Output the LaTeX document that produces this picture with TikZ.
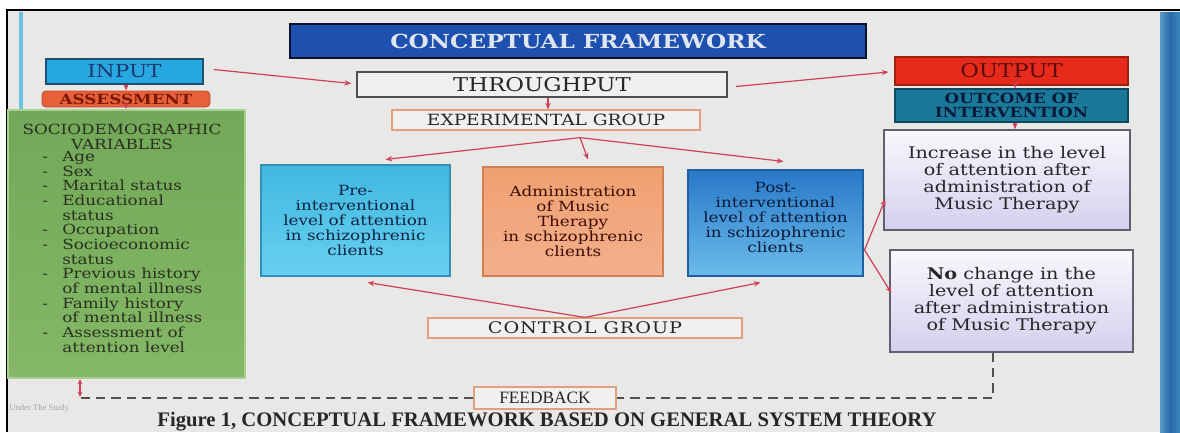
\documentclass[tikz,border=0pt]{standalone}
\usepackage{fontspec}
\setmainfont{DejaVu Serif}[FakeStretch=1.2]
\newfontfamily\capfont{Liberation Serif}
\usetikzlibrary{arrows.meta,calc}
\newcommand\fsz[2]{\fontsize{#1pt}{#2pt}\selectfont}
\definecolor{slidebg}{HTML}{E8E8E6}
\definecolor{bandL}{HTML}{5A9AC8}
\definecolor{bandM}{HTML}{2A6AA8}
\definecolor{bandR}{HTML}{3A88C0}
\definecolor{lblue}{HTML}{70C0E0}
\definecolor{titlefill}{HTML}{1E50B0}
\definecolor{titledraw}{HTML}{0A1030}
\definecolor{titletext}{HTML}{E0E6F0}
\definecolor{inputfill}{HTML}{28A8E0}
\definecolor{inputdraw}{HTML}{205070}
\definecolor{inputtext}{HTML}{1A3A70}
\definecolor{assessfill}{HTML}{E8603A}
\definecolor{assesstext}{HTML}{7A1808}
\definecolor{greenA}{HTML}{72A858}
\definecolor{greenB}{HTML}{84B866}
\definecolor{greenbd}{HTML}{A8D090}
\definecolor{greentext}{HTML}{2A3020}
\definecolor{boxtext}{HTML}{262628}
\definecolor{thrufill}{HTML}{F0F0EE}
\definecolor{thrudraw}{HTML}{505050}
\definecolor{grpdraw}{HTML}{E0A080}
\definecolor{outfill}{HTML}{E62A1C}
\definecolor{outdraw}{HTML}{A02010}
\definecolor{outtext}{HTML}{5A0C0C}
\definecolor{ocfill}{HTML}{1A7898}
\definecolor{ocdraw}{HTML}{104860}
\definecolor{octext}{HTML}{0A1A3A}
\definecolor{lavtop}{HTML}{F8F8FC}
\definecolor{lavbot}{HTML}{D6CEEE}
\definecolor{lavdraw}{HTML}{606070}
\definecolor{cyanA}{HTML}{40B8E0}
\definecolor{cyanB}{HTML}{22A6DA}
\definecolor{cyanC}{HTML}{68D0F0}
\definecolor{cyandraw}{HTML}{3090B8}
\definecolor{orA}{HTML}{F0A070}
\definecolor{orB}{HTML}{E87424}
\definecolor{orC}{HTML}{F2B08E}
\definecolor{ordraw}{HTML}{D08050}
\definecolor{bluA}{HTML}{2878C8}
\definecolor{bluB}{HTML}{3484CC}
\definecolor{bluC}{HTML}{6CBCEA}
\definecolor{bludraw}{HTML}{2060A0}
\definecolor{arrc}{HTML}{D0405A}
\definecolor{dashc}{HTML}{505050}
\begin{document}
\begin{tikzpicture}[x=0.75pt,y=-0.75pt,
  sz/.style 2 args={minimum width=#1*0.75pt, minimum height=#2*0.75pt, inner sep=0pt},
  arr/.style={draw=arrc, line width=0.9pt, -{Stealth[length=5pt,width=4pt]}},
  fbdash/.style={draw=dashc, line width=1.1pt, dash pattern=on 7pt off 4.5pt},
  grpbox/.style={fill=thrufill, draw=grpdraw, line width=0.9pt, text=boxtext},
  lavbox/.style={top color=lavtop, bottom color=lavbot, draw=lavdraw, line width=1pt, text=boxtext, align=center, font=\fsz{12}{12.75}},
  midbox/.style={align=center, font=\fsz{10.5}{11.25}, line width=0.8pt}
]
\useasboundingbox (0,0) rectangle (1180,432);
\fill[white] (0,0) rectangle (1180,432);
\fill[slidebg] (7,10) rectangle (1180,432);
\shade[left color=bandL, right color=bandR, middle color=bandM] (1160,12) rectangle (1180,432);
\draw[black, line width=2pt] (7,432) -- (7,10) -- (1180,10);
\draw[lblue, line width=3pt] (21,12) -- (21,110);

% title
\node[sz={576}{34}, fill=titlefill, draw=titledraw, line width=2pt, text=titletext, font=\bfseries\fsz{14.5}{18}] (title) at (578,41) {CONCEPTUAL FRAMEWORK};

% input side
\node[sz={157}{25}, fill=inputfill, draw=inputdraw, line width=1pt, text=inputtext, font=\fsz{13.5}{15}] (input) at (124.5,71.5) {INPUT};
\node[sz={168}{16}, fill=assessfill, draw=assessfill!80!black, rounded corners=3pt, line width=0.6pt, text=assesstext, font=\bfseries\fsz{10.5}{12}] (assess) at (126,99) {ASSESSMENT};
\node[sz={237}{268}, top color=greenA, bottom color=greenB, draw=greenbd, line width=1.5pt] (green) at (126.5,244) {};
\node[font=\fsz{10.5}{11}, text=greentext, align=center, inner sep=0pt] (ghead) at (122,137) {SOCIODEMOGRAPHIC\\VARIABLES};
\node[anchor=north west, font=\fsz{10.5}{11}, text=greentext, align=left, inner sep=0pt] (glist) at (42,151) {%
\makebox[15pt][l]{-}Age\\
\makebox[15pt][l]{-}Sex\\
\makebox[15pt][l]{-}Marital status\\
\makebox[15pt][l]{-}Educational\\
\makebox[15pt][l]{}status\\
\makebox[15pt][l]{-}Occupation\\
\makebox[15pt][l]{-}Socioeconomic\\
\makebox[15pt][l]{}status\\
\makebox[15pt][l]{-}Previous history\\
\makebox[15pt][l]{}of mental illness\\
\makebox[15pt][l]{-}Family history\\
\makebox[15pt][l]{}of mental illness\\
\makebox[15pt][l]{-}Assessment of\\
\makebox[15pt][l]{}attention level};

% throughput
\node[sz={370}{25}, fill=thrufill, draw=thrudraw, line width=1.2pt, text=boxtext, font=\fsz{14.25}{16}] (through) at (542,84.5) {THROUGHPUT};
\node[sz={308}{20}, grpbox, font=\fsz{11.6}{13}] (exper) at (546,120) {EXPERIMENTAL GROUP};
\node[sz={189}{111}, midbox, top color=cyanA, middle color=cyanB, bottom color=cyanC, draw=cyandraw, text=inputtext!60!black] (pre) at (355.5,220.5) {Pre-\\interventional\\level of attention\\in schizophrenic\\clients};
\node[sz={180}{109}, midbox, top color=orA, middle color=orB, bottom color=orC, draw=ordraw, text=assesstext!50!black] (admin) at (573,221.5) {Administration\\of Music\\Therapy\\in schizophrenic\\clients};
\node[sz={175}{106}, midbox, top color=bluA, middle color=bluB, bottom color=bluC, draw=bludraw, text=octext] (post) at (775.5,223) {Post-\\interventional\\level of attention\\in schizophrenic\\clients\\[-2.25pt]};
\node[sz={314}{20}, grpbox, font=\addfontfeature{LetterSpace=6}\fsz{12}{13}] (control) at (585,328) {CONTROL GROUP};

% output side
\node[sz={233}{28}, fill=outfill, draw=outdraw, line width=0.8pt, text=outtext, font=\fsz{14.25}{16}] (output) at (1011.5,71) {OUTPUT};
\node[sz={233}{33}, fill=ocfill, draw=ocdraw, line width=0.8pt, text=octext, font=\bfseries\fsz{10.5}{11}, align=center] (outcome) at (1011.5,105.5) {OUTCOME OF\\INTERVENTION};
\node[sz={246}{100}, lavbox] (incr) at (1007,180) {Increase in the level\\of attention after\\administration of\\Music Therapy};
\node[sz={243}{102}, lavbox] (nochg) at (1011.5,301) {\textbf{No} change in the\\level of attention\\after administration\\of Music Therapy};

% feedback
\node[sz={142}{22}, grpbox, font=\capfont\fsz{13}{14}] (feedback) at (545,398) {FEEDBACK};
\coordinate (fbR) at (993,398);
\coordinate (fbL) at (80,398);
\draw[fbdash] (nochg.south -| fbR) -- (fbR) -- (feedback.east);
\draw[fbdash] (feedback.west) -- (fbL);
\draw[draw=arrc, line width=0.8pt, {Stealth[length=4pt,width=3.5pt]}-{Stealth[length=4pt,width=3.5pt]}] ($(fbL)+(0,-1)$) -- (fbL |- green.south);

% caption
\node[font=\capfont\bfseries\fsz{15.5}{17}, text=black!85] (caption) at (547,422) {Figure 1, CONCEPTUAL FRAMEWORK BASED ON GENERAL SYSTEM THEORY};
\node[anchor=west, font=\capfont\fsz{6.5}{7}, text=black!35, inner sep=0pt] (under) at (9,408) {Under The Study};

% connectors
\draw[arr] ($(input.east)+(10,-2)$) -- ($(through.west)+(-5,-1)$);
\draw[arr] ($(through.east)+(8,2)$) -- ($(output.west)+(-6,1)$);
\draw[arr] (input.south -| assess.north) -- (assess.north);
\draw[arr] (assess.south) -- (green.north -| assess.south);
\draw[arr] (through.south -| 548,0) -- (exper.north -| 548,0);
\draw[arr] (output.south -| 1015,0) -- (outcome.north -| 1015,0);
\draw[arr] (outcome.south -| 1015,0) -- (incr.north -| 1015,0);
\coordinate (fan) at ($(exper.south)+(34,7)$);
\draw[arr] (fan) -- ($(pre.north)+(30,-5)$);
\draw[arr] (fan) -- ($(admin.north)+(15,-7)$);
\draw[arr] (fan) -- ($(post.north)+(8,-8)$);
\draw[arr] (control.north) -- ($(pre.south)+(12,6)$);
\draw[arr] (control.north) -- ($(post.south)+(-15,6)$);
\coordinate (pst) at ($(post.east)+(1,27)$);
\draw[arr] (pst) -- ($(incr.west)+(2,19)$);
\draw[arr] (pst) -- ($(nochg.west)+(2,-8)$);
\end{tikzpicture}
\end{document}
